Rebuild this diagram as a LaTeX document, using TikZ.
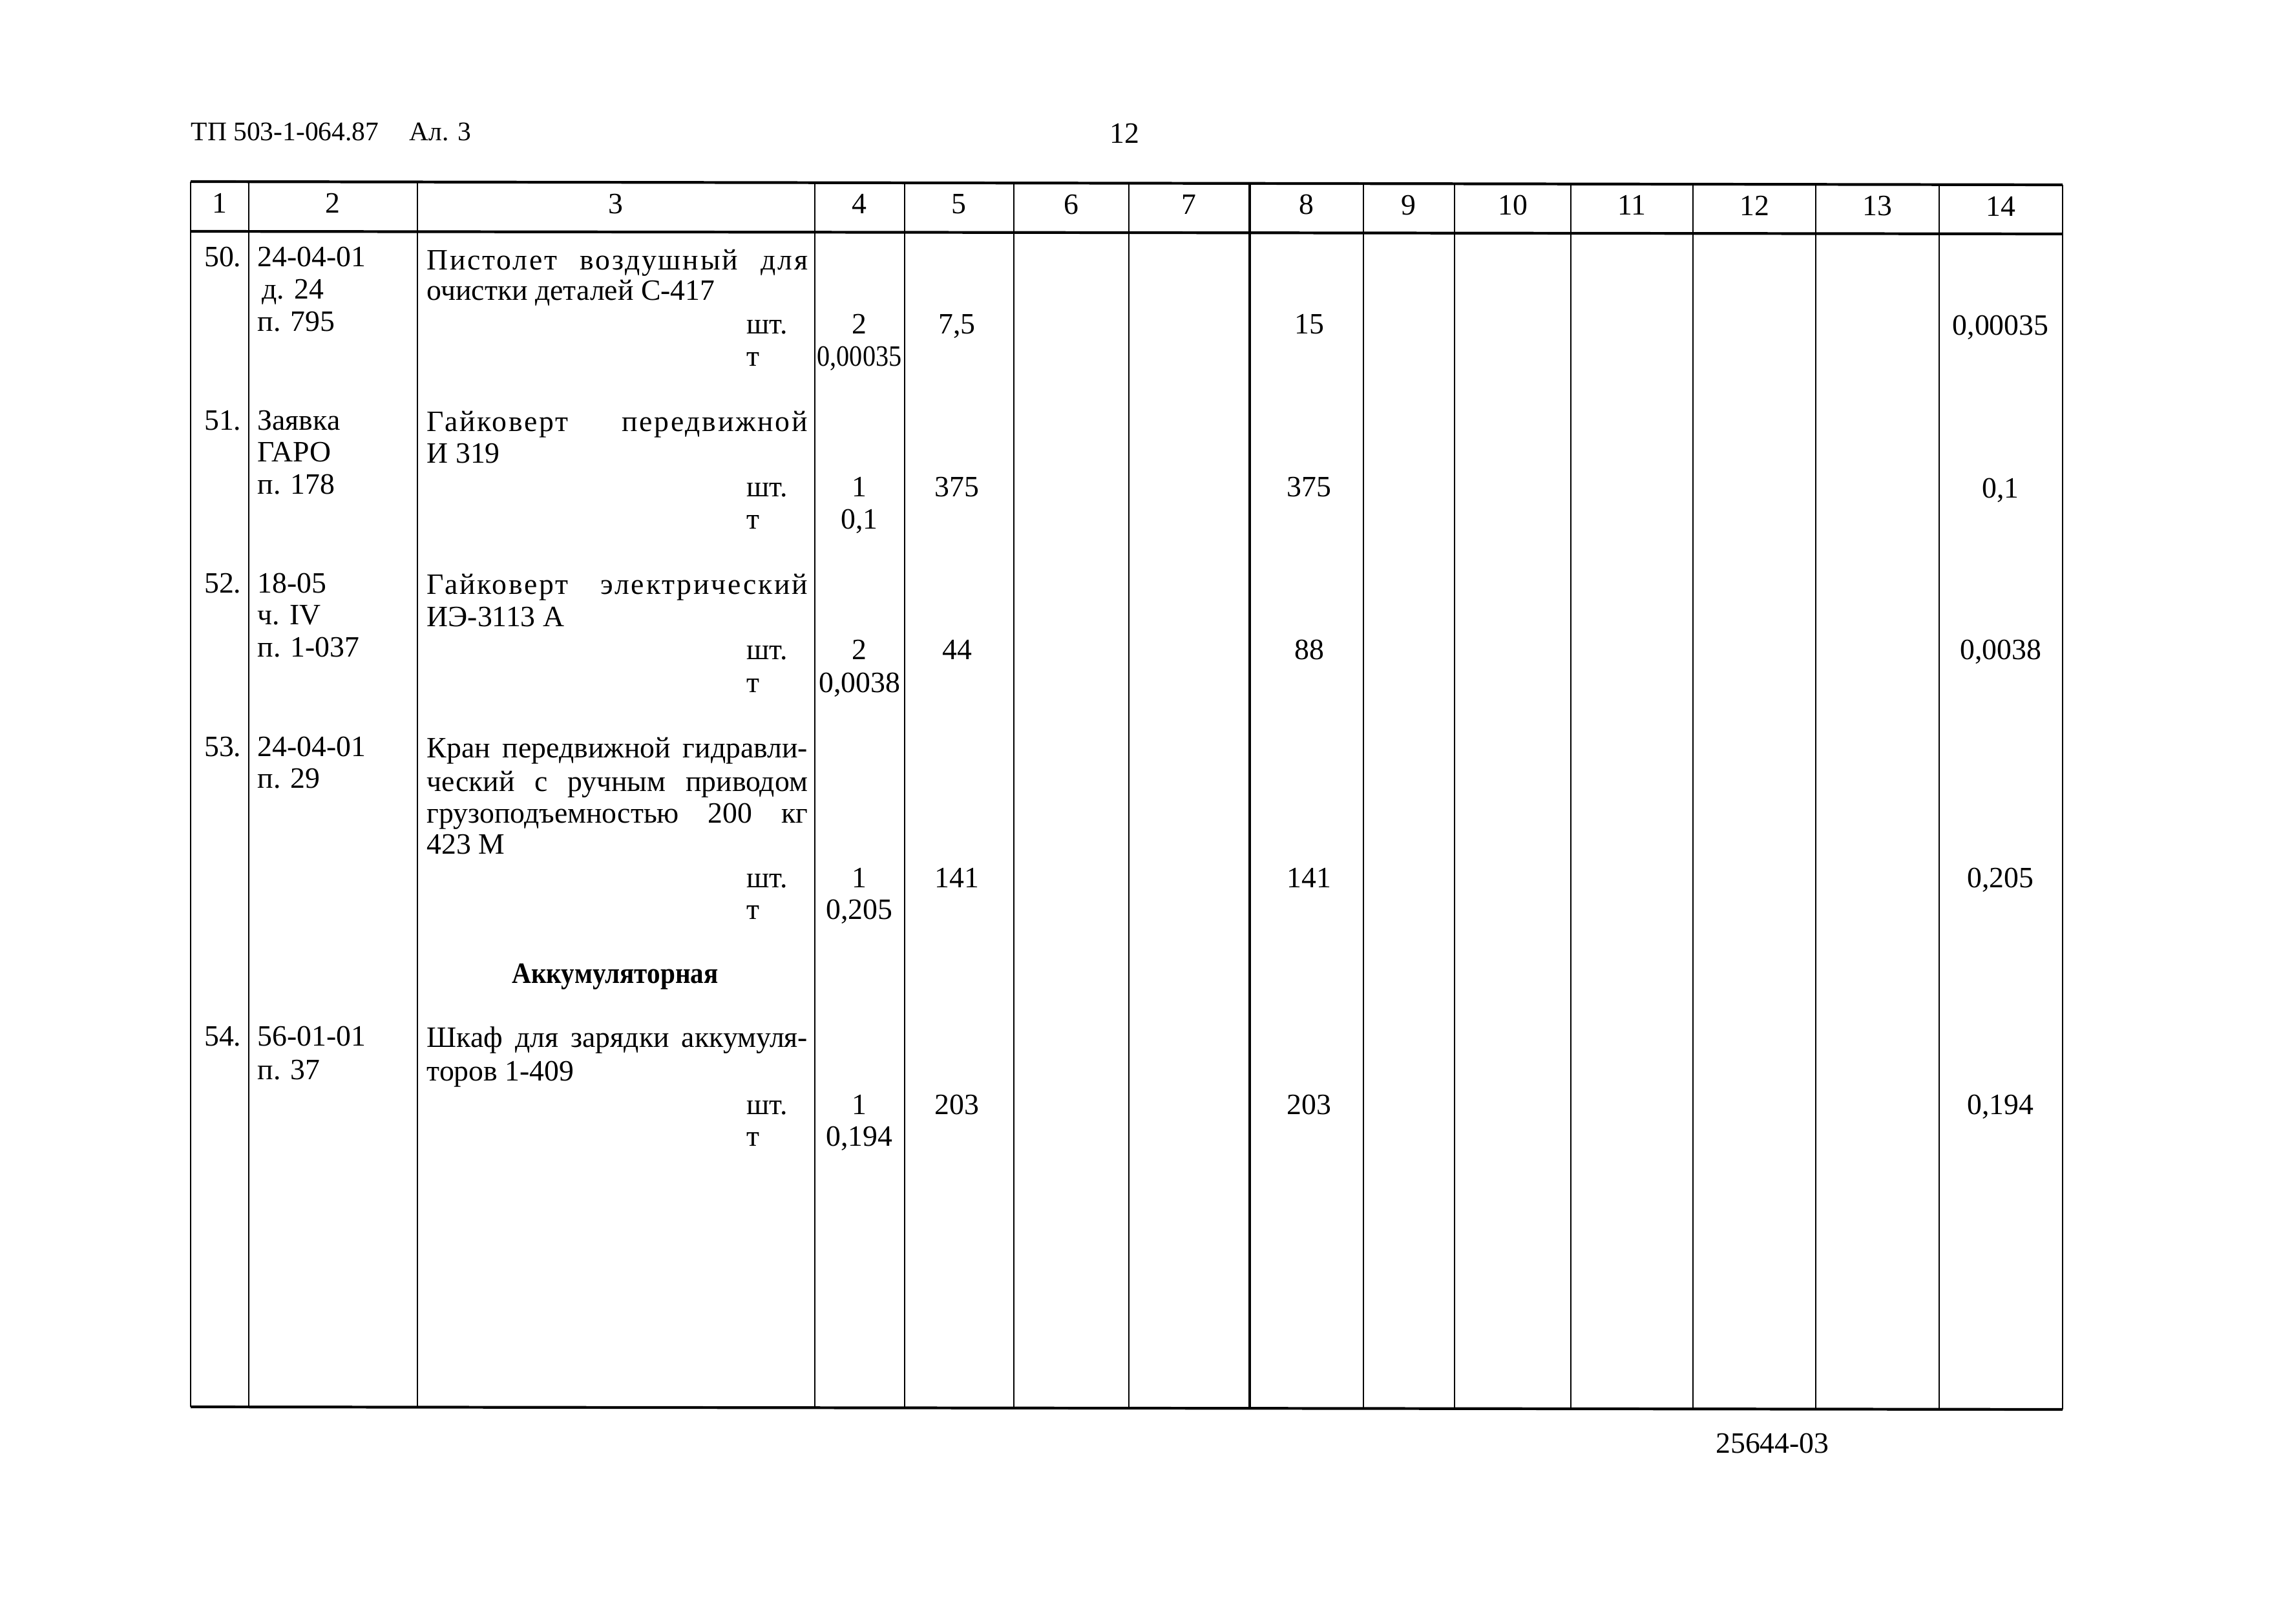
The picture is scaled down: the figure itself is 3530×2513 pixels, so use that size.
\documentclass[tikz,border=0pt]{standalone}
\usepackage{fontspec}
\usepackage{graphicx}
\setmainfont{Liberation Serif}
\newfontfamily\spacedfont[LetterSpace=6]{Liberation Serif}
\newcommand\fs{\fontsize{13pt}{14pt}\selectfont}
\tikzset{
  tl/.style={inner sep=0pt, anchor=base west, font=\fs},
  tcn/.style={inner sep=0pt, anchor=base, font=\fs},
  trt/.style={inner sep=0pt, anchor=base east, font=\fs},
  hline/.style={line width=1.2pt},
  vline/.style={line width=0.7pt},
}
\newcommand\jline[1]{\makebox[5.89cm][s]{#1}}
\begin{document}
\begin{tikzpicture}[x=0.01cm,y=-0.01cm]
\useasboundingbox (0,0) rectangle (3530,2513);
\fill[white] (0,0) rectangle (3530,2513);
% header texts
\node[tl, font=\fontsize{11.8pt}{14pt}\selectfont] (tA) at (295,218) {ТП 503-1-064.87};
\node[tl, font=\fontsize{11.8pt}{14pt}\selectfont] (tB) at (633,218) {Ал. 3};
\node[tcn] (pg) at (1740,222) {12};
% table lines (slightly skewed as in the scan)
\draw[hline] (295,281) -- (3192,286);
\draw[hline] (295,358) -- (3192,362);
\draw[hline] (295,2177) -- (3192,2181);
\foreach \x in {295,385,646,1261,1400,1569,1747,2110,2251,2431,2620,2810,3001,3192}{
  \pgfmathsetmacro\yt{281+5*(\x-295)/2897}
  \pgfmathsetmacro\yb{2177+4*(\x-295)/2897}
  \draw[vline] (\x,\yt) -- (\x,\yb);
}
\draw[line width=1.1pt] (1934,284.0) -- (1934,2179.3);
% header numbers
\node[tcn] (h1) at (340,330) {1};
\node[tcn] (h2) at (515,330) {2};
\node[tcn] (h3) at (953,331) {3};
\node[tcn] (h4) at (1330,331) {4};
\node[tcn] (h5) at (1484,331) {5};
\node[tcn] (h6) at (1658,332) {6};
\node[tcn] (h7) at (1840,332) {7};
\node[tcn] (h8) at (2022,332) {8};
\node[tcn] (h9) at (2180,333) {9};
\node[tcn] (h10) at (2341,333) {10};
\node[tcn] (h11) at (2525,333) {11};
\node[tcn] (h12) at (2715,334) {12};
\node[tcn] (h13) at (2905,334) {13};
\node[tcn] (h14) at (3096,335) {14};
% row 50
\node[trt] (n50) at (374,413) {50.};
\node[tl] (a50a) at (398,413) {24-04-01};
\node[tl] (a50b) at (405,463) {д. 24};
\node[tl] (a50c) at (398,513) {п. 795};
\node[tl] (d50a) at (660,418) {\jline{\spacedfont Пистолет воздушный для}};
\node[tl] (d50b) at (660,465) {очистки деталей С-417};
\node[tl] (u50a) at (1155,517) {шт.};
\node[tl] (u50b) at (1155,567) {т};
\node[tcn] (q50a) at (1330,517) {2};
\node[tcn] (q50b) at (1330,567) {\scalebox{0.88}[1]{0,00035}};
\node[tcn] (p50) at (1481,517) {7,5};
\node[tcn] (s50) at (2026,517) {15};
\node[tcn] (w50) at (3096,519) {0,00035};
% row 51
\node[trt] (n51) at (374,666) {51.};
\node[tl] (a51a) at (398,666) {Заявка};
\node[tl] (a51b) at (398,715) {ГАРО};
\node[tl] (a51c) at (398,765) {п. 178};
\node[tl] (d51a) at (660,668) {\jline{\spacedfont Гайковерт передвижной}};
\node[tl] (d51b) at (660,717) {И 319};
\node[tl] (u51a) at (1155,769) {шт.};
\node[tl] (u51b) at (1155,819) {т};
\node[tcn] (q51a) at (1330,769) {1};
\node[tcn] (q51b) at (1330,819) {0,1};
\node[tcn] (p51) at (1481,769) {375};
\node[tcn] (s51) at (2026,769) {375};
\node[tcn] (w51) at (3096,771) {0,1};
% row 52
\node[trt] (n52) at (374,918) {52.};
\node[tl] (a52a) at (398,918) {18-05};
\node[tl] (a52b) at (398,967) {ч. IV};
\node[tl] (a52c) at (398,1017) {п. 1-037};
\node[tl] (d52a) at (660,920) {\jline{\spacedfont Гайковерт электрический}};
\node[tl] (d52b) at (660,970) {ИЭ-3113 А};
\node[tl] (u52a) at (1155,1021) {шт.};
\node[tl] (u52b) at (1155,1071) {т};
\node[tcn] (q52a) at (1330,1021) {2};
\node[tcn] (q52b) at (1330,1071) {0,0038};
\node[tcn] (p52) at (1481,1021) {44};
\node[tcn] (s52) at (2026,1021) {88};
\node[tcn] (w52) at (3096,1021) {0,0038};
% row 53
\node[trt] (n53) at (374,1170) {53.};
\node[tl] (a53a) at (398,1170) {24-04-01};
\node[tl] (a53b) at (398,1219) {п. 29};
\node[tl] (d53a) at (660,1172) {\jline{Кран передвижной гидравли-}};
\node[tl] (d53b) at (660,1224) {\jline{ческий с ручным приводом}};
\node[tl] (d53c) at (660,1273) {\jline{грузоподъемностью 200 кг}};
\node[tl] (d53d) at (660,1321) {423 М};
\node[tl] (u53a) at (1155,1373) {шт.};
\node[tl] (u53b) at (1155,1422) {т};
\node[tcn] (q53a) at (1330,1373) {1};
\node[tcn] (q53b) at (1330,1422) {0,205};
\node[tcn] (p53) at (1481,1373) {141};
\node[tcn] (s53) at (2026,1373) {141};
\node[tcn] (w53) at (3096,1373) {0,205};
% section
\node[tcn, font=\fs\bfseries] (sec) at (952,1521) {\scalebox{0.9}[1]{Аккумуляторная}};
% row 54
\node[trt] (n54) at (374,1618) {54.};
\node[tl] (a54a) at (398,1618) {56-01-01};
\node[tl] (a54b) at (398,1670) {п. 37};
\node[tl] (d54a) at (660,1620) {\jline{Шкаф для зарядки аккумуля-}};
\node[tl] (d54b) at (660,1672) {торов 1-409};
\node[tl] (u54a) at (1155,1724) {шт.};
\node[tl] (u54b) at (1155,1773) {т};
\node[tcn] (q54a) at (1330,1724) {1};
\node[tcn] (q54b) at (1330,1773) {0,194};
\node[tcn] (p54) at (1481,1724) {203};
\node[tcn] (s54) at (2026,1724) {203};
\node[tcn] (w54) at (3096,1724) {0,194};
% footer
\node[tcn] (ft) at (2743,2248) {25644-03};
\end{tikzpicture}
\end{document}
